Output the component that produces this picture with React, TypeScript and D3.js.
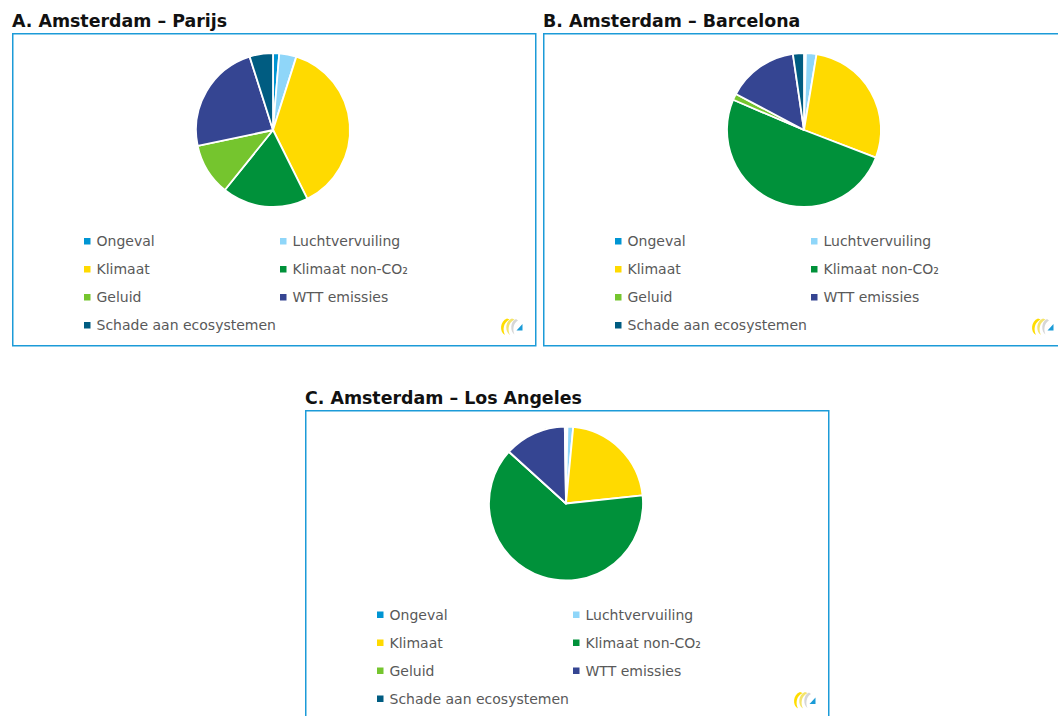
import React from "react";
import * as d3 from "d3";

const categories = [
  "Ongeval",
  "Luchtvervuiling",
  "Klimaat",
  "Klimaat non-CO₂",
  "Geluid",
  "WTT emissies",
  "Schade aan ecosystemen",
];
const colors = ["#0095D3", "#8FD6F9", "#FFDA00", "#00913A", "#75C52E", "#354592", "#005C81"];

const titles = ["A. Amsterdam – Parijs", "B. Amsterdam – Barcelona", "C. Amsterdam – Los Angeles"];
const valuesParijs = [1.3, 3.6, 37.7, 18.1, 10.9, 23.4, 4.9];
const valuesBarcelona = [0.4, 2.2, 28.1, 50.4, 1.3, 14.9, 2.3];
const valuesLosAngeles = [0.3, 1.2, 21.8, 63.3, 0, 13.0, 0.25];
const seriesList = [valuesParijs, valuesBarcelona, valuesLosAngeles];

const panelPos = [
  { x: 12, y: 33, dy: 0 },
  { x: 543, y: 33, dy: 0 },
  { x: 305, y: 410, dy: -3.5 },
];
const boxW = 523;
const boxH = 312;

function Logo({ x, y }: { x: number; y: number }) {
  return (
    <g transform={`translate(${x},${y})`}>
      <path d="M7,0.5 C0,3 -1,14 5,17 C2.5,12 3,5 9.5,1.5 Z" fill="#FFDD00" />
      <path d="M12,0.5 C5,3 4.5,14 10,17 C7.5,12 8,5 14.5,1.5 Z" fill="#F4E46C" />
      <path d="M16,1 C10,3.5 10,13.5 14.5,16.5 C12.5,12 13,5.5 18,2.5 Z" fill="#D6D6D6" />
      <path d="M16.5,12.5 L22.5,6 L22.5,12.5 Z" fill="#1A9BD7" />
    </g>
  );
}

function Panel({ idx }: { idx: number }) {
  const { x, y, dy } = panelPos[idx];
  const values = seriesList[idx];
  const pie = d3.pie<number>().sort(null).value((d) => d);
  const arcs = pie(values);
  const r = 77;
  const arc = d3.arc<d3.PieArcDatum<number>>().innerRadius(0).outerRadius(r);
  const cx = 261;
  const cy = 97 + dy;
  const colX = [75, 271];
  const rowY0 = 208 + dy;
  const rowDy = 28;
  return (
    <g>
      <text
        x={x}
        y={y - 6}
        fontFamily="'DejaVu Sans', sans-serif"
        fontWeight="bold"
        fontSize={17.4}
        fill="#111"
      >
        {titles[idx]}
      </text>
      <rect x={x + 0.75} y={y + 0.75} width={boxW} height={boxH} fill="#fff" stroke="#1C9BD8" strokeWidth={1.5} />
      <g transform={`translate(${x + cx},${y + cy})`}>
        {arcs.map((a, i) => (
          <path key={i} d={arc(a) || ""} fill={colors[i]} stroke="#fff" strokeWidth={1.8} strokeLinejoin="round" />
        ))}
      </g>
      {categories.map((c, i) => {
        const col = i % 2;
        const row = Math.floor(i / 2);
        const lx = x + colX[col];
        const ly = y + rowY0 + row * rowDy;
        return (
          <g key={c}>
            <rect x={lx - 3} y={ly - 3} width={6.5} height={6.5} fill={colors[i]} />
            <text
              x={lx + 9.5}
              y={ly}
              dy="0.36em"
              fontFamily="'DejaVu Sans', sans-serif"
              fontSize={14}
              fill="#595959"
            >
              {c}
            </text>
          </g>
        );
      })}
      <Logo x={x + 488} y={y + 285 + dy} />
    </g>
  );
}

export default function App() {
  return (
    <svg
      width={1058}
      height={716}
      style={{ position: "absolute", left: 0, top: 0, background: "#fff" }}
    >
      <rect width={1058} height={716} fill="#fff" />
      {[0, 1, 2].map((i) => (
        <Panel key={i} idx={i} />
      ))}
    </svg>
  );
}
